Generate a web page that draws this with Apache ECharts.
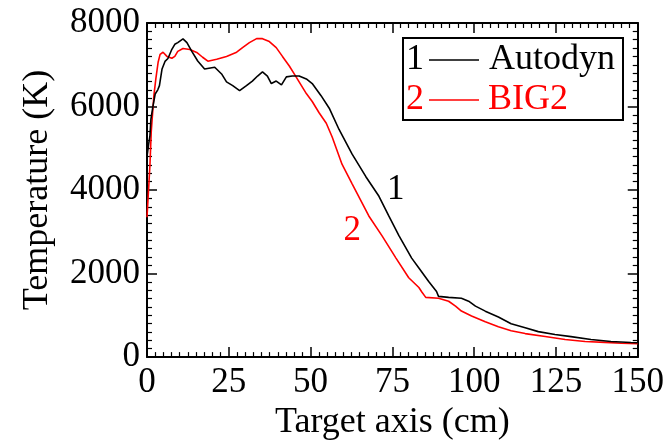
<!DOCTYPE html>
<html>
<head>
<meta charset="utf-8">
<script src="https://cdn.jsdelivr.net/npm/echarts@6/dist/echarts.min.js"></script>
<style>
  html, body { margin: 0; padding: 0; background: #fff; }
  #chart { width: 667px; height: 446px; }
</style>
</head>
<body>
<div id="chart"></div>
<script>
// Temperature along the target axis: Autodyn (1) vs BIG2 (2)
const autodynX = [0, 0.5, 0.9, 1.2, 1.8, 2.5, 3.3, 3.8, 4.6, 5.5, 6.4, 7.6, 8.5, 9.4, 11.0, 12.2, 13.7, 15.5, 17.6, 20.7,
  22.8, 24.3, 26.2, 28.3, 30.4, 32.2, 33.8, 35.3, 36.8, 38.0, 39.5, 41.1, 42.6, 44.4, 46.5, 48.7, 50.5, 53.2, 55.7, 58.7,
  62.7, 66.9, 70.9, 73.9, 77.0, 80.9, 83.1, 86.1, 88.5, 89.1, 92.2, 96.1, 98.3, 100.4, 103.4, 107.4, 111.3, 115.6, 119.6,
  124.7, 129.6, 135.7, 141.8, 147.9, 150];
const autodynT = [4800, 5100, 5300, 5700, 6000, 6300, 6400, 6500, 6900, 7080, 7150, 7370, 7490, 7530, 7620, 7530, 7320, 7090, 6900, 6940,
  6780, 6590, 6500, 6380, 6500, 6610, 6730, 6830, 6730, 6550, 6610, 6520, 6710, 6730, 6730, 6660, 6550, 6260, 5960, 5450,
  4860, 4320, 3850, 3380, 2910, 2370, 2135, 1810, 1570, 1455, 1430, 1410, 1340, 1220, 1100, 960, 800, 705, 610,
  540, 490, 420, 375, 350, 345];

const big2X = [0, 0.4, 0.9, 1.3, 2.1, 2.7, 3.4, 4.0, 4.9, 6.1, 7.6, 8.5, 9.4, 11.0, 13.1, 15.2, 17.0, 18.6, 21.3, 24.3,
  27.4, 29.2, 31.3, 33.5, 35.3, 37.4, 39.5, 41.4, 43.5, 45.0, 46.5, 48.7, 50.5, 52.6, 54.8, 56.6, 59.6, 62.7, 67.8, 71.8,
  76.1, 80.0, 83.1, 84.0, 85.2, 89.1, 92.2, 94.3, 96.1, 99.2, 103.4, 107.4, 111.3, 115.6, 121.7, 127.8, 133.9, 139.9, 145, 150];
const big2T = [3350, 3900, 4600, 5400, 6260, 6660, 7060, 7250, 7300, 7200, 7155, 7200, 7320, 7390, 7366, 7296, 7180, 7085, 7130, 7200,
  7300, 7410, 7530, 7625, 7625, 7555, 7410, 7200, 6970, 6780, 6590, 6310, 6120, 5850, 5600, 5270, 4620, 4150, 3380, 2910,
  2370, 1900, 1666, 1560, 1430, 1408, 1337, 1220, 1103, 985, 845, 727, 633, 563, 493, 422, 375, 352, 330, 320];

// Axis ranges and tick spacing
const xRange = [0, 150], xStep = 25;
const yRange = [0, 8000], yStep = 2000;

// Curve tags placed next to each curve (data units)
const tagAutodyn = [76, 4000];
const tagBig2 = [62.7, 3020];

const FONT = 'Liberation Serif';
const BLACK = '#000000';
const RED = '#ff0000';

const pairs = (xs, ys) => xs.map((x, i) => [x, ys[i]]);

function valueAxis(range, step, position, showLabels) {
  return {
    type: 'value',
    position: position,
    min: range[0], max: range[1], interval: step,
    axisLine: { show: true, onZero: false, lineStyle: { color: BLACK, width: 2 } },
    axisTick: { show: true, inside: true, length: 10, lineStyle: { color: BLACK, width: 1.5 } },
    minorTick: { show: true, splitNumber: 10, length: 5, lineStyle: { color: BLACK, width: 1.2 } },
    splitLine: { show: false },
    minorSplitLine: { show: false },
    axisLabel: {
      show: showLabels, color: BLACK, fontFamily: FONT, fontSize: 35, margin: 7,
      formatter: (v) => String(v)
    }
  };
}

const chart = echarts.init(document.getElementById('chart'), null, { renderer: 'canvas' });

const xBottom = valueAxis(xRange, xStep, 'bottom', true);
xBottom.name = 'Target axis (cm)';
xBottom.nameLocation = 'middle';
xBottom.nameGap = 47;
xBottom.nameTextStyle = { color: BLACK, fontFamily: FONT, fontSize: 36 };
xBottom.axisLabel.margin = 8;

const yLeft = valueAxis(yRange, yStep, 'left', true);
yLeft.name = 'Temperature (K)';
yLeft.nameLocation = 'middle';
yLeft.nameGap = 91;
yLeft.nameTextStyle = { color: BLACK, fontFamily: FONT, fontSize: 36 };

const tagLabel = (text, color) => ({
  show: true, position: 'inside', formatter: text,
  color: color, fontFamily: FONT, fontSize: 35
});

const legendText = (x, y, text, color) => ({
  type: 'text', x: x, y: y,
  style: { text: text, fill: color, fontFamily: FONT, fontSize: 36, verticalAlign: 'middle' }
});

chart.setOption({
  animation: false,
  backgroundColor: '#ffffff',
  textStyle: { fontFamily: FONT },
  grid: { left: 147, right: 27, top: 23, bottom: 82, containLabel: false },
  xAxis: [xBottom, valueAxis(xRange, xStep, 'top', false)],
  yAxis: [yLeft, valueAxis(yRange, yStep, 'right', false)],
  series: [
    {
      name: 'Autodyn', type: 'line', xAxisIndex: 0, yAxisIndex: 0,
      data: pairs(autodynX, autodynT),
      showSymbol: false, symbol: 'none',
      lineStyle: { color: BLACK, width: 1.6 },
      z: 3,
      markPoint: {
        symbol: 'circle', symbolSize: 1, itemStyle: { color: 'rgba(0,0,0,0)' },
        label: tagLabel('1', BLACK),
        data: [{ coord: tagAutodyn }]
      }
    },
    {
      name: 'BIG2', type: 'line', xAxisIndex: 0, yAxisIndex: 0,
      data: pairs(big2X, big2T),
      showSymbol: false, symbol: 'none',
      lineStyle: { color: RED, width: 1.6 },
      z: 2,
      markPoint: {
        symbol: 'circle', symbolSize: 1, itemStyle: { color: 'rgba(0,0,0,0)' },
        label: tagLabel('2', RED),
        data: [{ coord: tagBig2 }]
      }
    }
  ],
  graphic: [
    {
      type: 'group', left: 402, top: 37,
      children: [
        { type: 'rect', shape: { x: 0, y: 0, width: 220, height: 82 },
          style: { fill: '#ffffff', stroke: BLACK, lineWidth: 2 } },
        legendText(3, 22, '1', BLACK),
        { type: 'line', shape: { x1: 26, y1: 22, x2: 76, y2: 22 }, style: { stroke: BLACK, lineWidth: 1.6 } },
        legendText(86, 22, 'Autodyn', BLACK),
        legendText(3, 62, '2', RED),
        { type: 'line', shape: { x1: 26, y1: 62, x2: 76, y2: 62 }, style: { stroke: RED, lineWidth: 1.6 } },
        legendText(85, 62, 'BIG2', RED)
      ]
    }
  ]
});
</script>
</body>
</html>
